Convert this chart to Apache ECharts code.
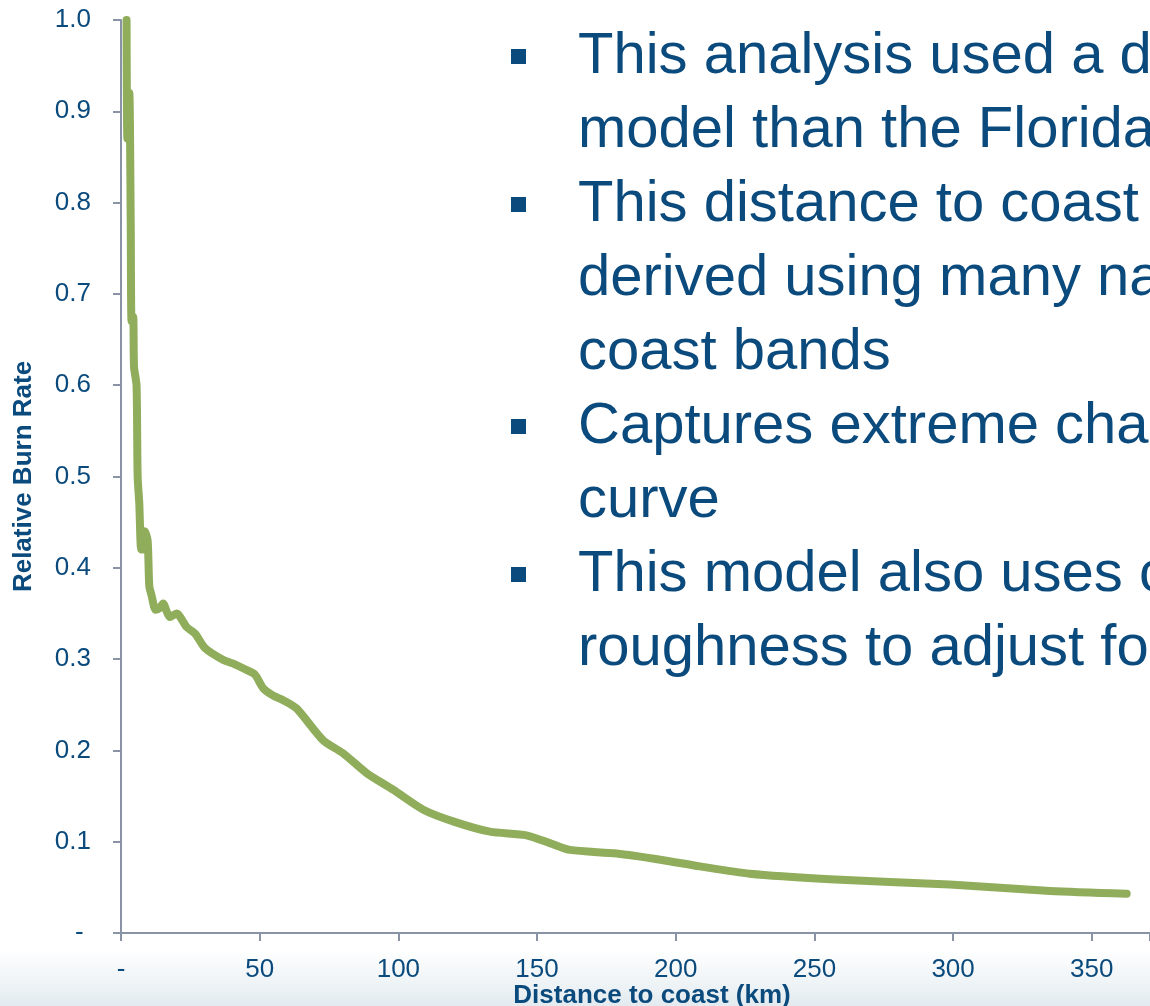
<!DOCTYPE html>
<html>
<head>
<meta charset="utf-8">
<script src="https://cdn.jsdelivr.net/npm/echarts@6/dist/echarts.min.js"></script>
<style>
  html, body { margin: 0; padding: 0; background: #ffffff; }
  #chart { width: 1150px; height: 1006px; }
</style>
</head>
<body>
<div id="chart"></div>
<script>
// ---- data ----
const distKm = [2.0, 2.3, 3.0, 3.5, 3.8, 4.4, 4.7, 5.6, 6.0, 6.6, 7.3, 8.0, 8.6, 9.6, 10.2, 11.0, 12.5, 14.0, 15.2, 16.5, 17.6, 20.0, 23.7, 26.7, 30.3, 36.9, 40.5, 45.3, 48.3, 51.3, 54.9, 58.5, 63.3, 72.9, 80.0, 88.6, 98.1, 109.0, 120.0, 133.0, 146.2, 155.0, 161.9, 178.7, 195.0, 208.7, 226.7, 255.6, 298.8, 335.0, 362.6];
const burnRate = [1.0, 0.87, 0.92, 0.78, 0.67, 0.675, 0.62, 0.60, 0.50, 0.47, 0.42, 0.42, 0.44, 0.43, 0.38, 0.37, 0.354, 0.356, 0.361, 0.352, 0.346, 0.35, 0.335, 0.328, 0.312, 0.299, 0.295, 0.288, 0.283, 0.268, 0.26, 0.255, 0.246, 0.211, 0.197, 0.175, 0.157, 0.135, 0.122, 0.111, 0.107, 0.098, 0.091, 0.087, 0.080, 0.073, 0.065, 0.059, 0.053, 0.046, 0.043];
const xTickValues = [0, 50, 100, 150, 200, 250, 300, 350];
const yTickValues = [0, 0.1, 0.2, 0.3, 0.4, 0.5, 0.6, 0.7, 0.8, 0.9, 1.0];
const xAxisTitle = 'Distance to coast (km)';
const yAxisTitle = 'Relative Burn Rate';
const bulletLines = [
  { text: 'This analysis used a d', bullet: true },
  { text: 'model than the Florida', bullet: false },
  { text: 'This distance to coast', bullet: true },
  { text: 'derived using many na', bullet: false },
  { text: 'coast bands', bullet: false },
  { text: 'Captures extreme cha', bullet: true },
  { text: 'curve', bullet: false },
  { text: 'This model also uses c', bullet: true },
  { text: 'roughness to adjust fo', bullet: false }
];

const seriesData = distKm.map((d, i) => [d, burnRate[i]]);

const textBlue = '#0b4a7c';
const axisGrey = '#8a93a5';
const lineGreen = '#8fad5b';
const fontFam = '"Liberation Sans", Arial, sans-serif';

const graphics = [
  {
    type: 'rect', z: -10, silent: true,
    shape: { x: 0, y: 950, width: 1150, height: 56 },
    style: {
      fill: { type: 'linear', x: 0, y: 0, x2: 0, y2: 1,
        colorStops: [{ offset: 0, color: 'rgba(255,255,255,1)' }, { offset: 1, color: '#e3ebf0' }] }
    }
  }
];
const lineTop = 55, lineStep = 74;
bulletLines.forEach((ln, i) => {
  const cy = lineTop + i * lineStep;
  if (ln.bullet) {
    graphics.push({ type: 'rect', silent: true, shape: { x: 511, y: cy - 6, width: 15, height: 15 }, style: { fill: textBlue } });
  }
  graphics.push({
    type: 'text', silent: true, x: 578, y: cy + 2,
    style: { text: ln.text, fill: textBlue, font: '58px ' + fontFam, textVerticalAlign: 'middle', textAlign: 'left' }
  });
});

const chart = echarts.init(document.getElementById('chart'));
chart.setOption({
  backgroundColor: '#ffffff',
  animation: false,
  grid: { left: 121, top: 20, bottom: 73, right: 0, containLabel: false, outerBoundsMode: 'none' },
  xAxis: {
    type: 'value', min: 0, max: 371, interval: 50,
    name: xAxisTitle, nameLocation: 'middle', nameGap: 50, nameMoveOverlap: false,
    nameTextStyle: { color: textBlue, fontSize: 26, fontWeight: 'bold', fontFamily: fontFam, padding: [0, 0, 0, 33] },
    axisLine: { show: true, lineStyle: { color: axisGrey, width: 2 } },
    axisTick: { show: true, length: 8, lineStyle: { color: axisGrey, width: 2 } },
    axisLabel: {
      color: textBlue, fontSize: 26, fontFamily: fontFam, margin: 24,
      formatter: v => (xTickValues.indexOf(v) < 0 ? '' : (v === 0 ? '-' : String(v)))
    },
    splitLine: { show: false }
  },
  yAxis: {
    type: 'value', min: 0, max: 1.0, interval: 0.1,
    name: yAxisTitle, nameLocation: 'middle', nameGap: 84, nameRotate: 90, nameMoveOverlap: false,
    nameTextStyle: { color: textBlue, fontSize: 26, fontWeight: 'bold', fontFamily: fontFam },
    axisLine: { show: true, lineStyle: { color: axisGrey, width: 2 } },
    axisTick: { show: true, length: 8, lineStyle: { color: axisGrey, width: 2 } },
    axisLabel: {
      color: textBlue, fontSize: 26, fontFamily: fontFam, margin: 30,
      formatter: v => {
        const r = Math.round(v * 10) / 10;
        if (!yTickValues.some(t => Math.abs(t - r) < 1e-9)) return '';
        return r === 0 ? '- ' : r.toFixed(1);
      }
    },
    splitLine: { show: false }
  },
  series: [{
    type: 'line',
    data: seriesData,
    showSymbol: false,
    smooth: 0.25,
    clip: true,
    lineStyle: { color: lineGreen, width: 8, cap: 'round', join: 'round' },
    itemStyle: { color: lineGreen }
  }],
  graphic: graphics
});
</script>
</body>
</html>
